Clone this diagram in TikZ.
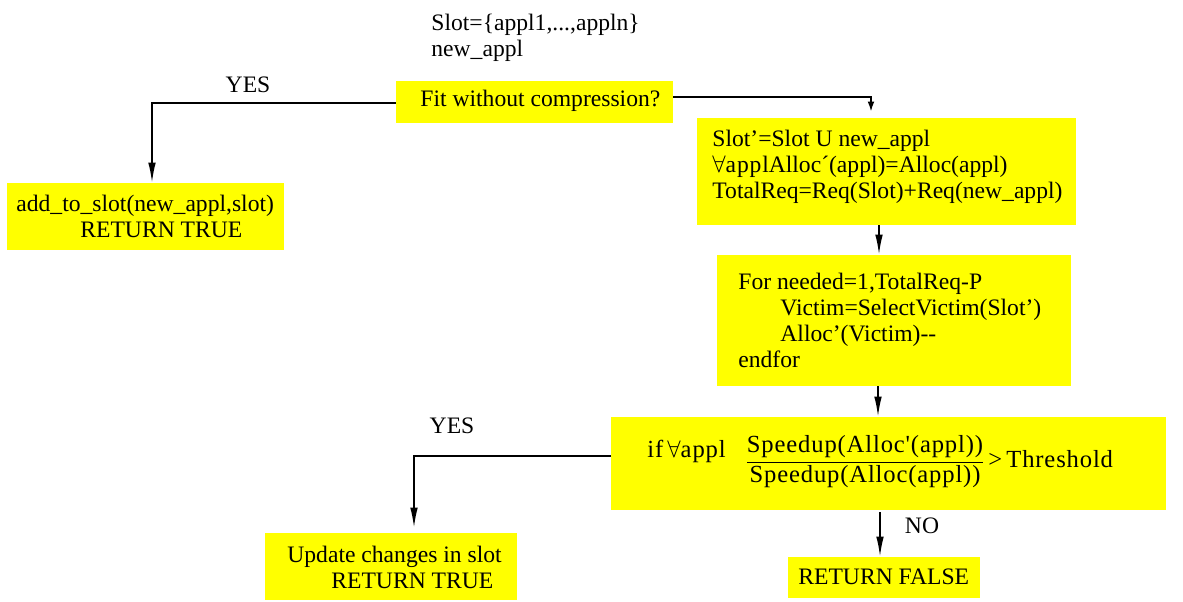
\documentclass[tikz,border=0pt]{standalone}
\usepackage{fontspec}
\setmainfont{Liberation Serif}
\newfontfamily\eqfont[Ligatures=TeXOff,LetterSpace=3.5]{Liberation Serif}
\usetikzlibrary{arrows.meta,calc,fit}
\definecolor{boxyellow}{RGB}{255,255,0}
\begin{document}
\begin{tikzpicture}[x=0.5pt,y=-0.5pt,
  box/.style={fill=boxyellow, inner sep=0pt},
  txt/.style={inner sep=0pt, align=left, anchor=west, font=\fontsize{11.8}{13}\selectfont},
  wtxt/.style={inner sep=0pt, font=\fontsize{12.3}{14}\selectfont\eqfont},
  arr/.style={-{Latex[length=10pt,width=3.8pt]}, line width=0.8pt},
  shortarr/.style={-{Latex[length=5pt,width=3.4pt]}, line width=0.8pt},
  lbl/.style={inner sep=0pt, font=\fontsize{11.8}{13}\selectfont},
]
\useasboundingbox (0,0) rectangle (1183,601);

% boxes
\node[box, fit={(396,81)(673,123)}]   (fitq)  {};
\node[box, fit={(697,118)(1076,225)}] (slotp) {};
\node[box, fit={(7,183)(284,250)}]    (add)   {};
\node[box, fit={(717,255)(1071,386)}] (loop)  {};
\node[box, fit={(611,417)(1166,510)}] (cond)  {};
\node[box, fit={(265,533)(517,600)}]  (upd)   {};
\node[box, fit={(788,557)(980,598)}]  (rfalse){};

% texts
\node[txt] (input) at (431,38) {Slot=\{appl1,...,appln\}\\new\_appl};
\node[txt] at (420,101) {Fit without compression?};
\node[txt] at (712,167) {Slot’=Slot U new\_appl\\
  {\eqfont\fontsize{11.8}{13}\selectfont$\forall$appl}Alloc´(appl)=Alloc(appl)\\
  TotalReq=Req(Slot)+Req(new\_appl)};
\node[txt] at (16,216) {add\_to\_slot(new\_appl,slot)\\\hspace*{32pt}RETURN TRUE};
\node[txt] at (738,320) {For needed=1,TotalReq-P\\
  \hspace*{21pt}Victim=SelectVictim(Slot’)\\
  \hspace*{21pt}Alloc’(Victim)-{}-\\
  endfor};
\node[wtxt, anchor=west] at (647,451) {if\,$\forall$appl};
\node[wtxt] (frac) at (865,462) {\renewcommand\arraystretch{1.05}%
  \begin{tabular}{@{}c@{}}Speedup(Alloc'(appl))\\\hline Speedup(Alloc(appl))\end{tabular}};
\node[wtxt, anchor=west] at (988,459) {>\,Threshold};
\node[txt] at (287,567) {Update changes in slot\\\hspace*{22pt}RETURN TRUE};
\node[txt] at (798,577) {RETURN FALSE};

% branch labels
\node[lbl] at (248,85) {YES};
\node[lbl] at (452,426) {YES};
\node[lbl] at (922,526) {NO};

% columns of the vertical connectors
\coordinate (c1) at (879,0);
\coordinate (c2) at (878,0);
\coordinate (c3) at (880,0);

% connectors
\draw[arr] ($(fitq.west)+(0,1)$) -| ($(add.north)+(6.5,0)$);
\draw[shortarr] ($(fitq.east)+(0,-5)$) -| ($(slotp.north)+(-15.5,-6)$);
\draw[arr] (slotp.south -| c1) -- (loop.north -| c1);
\draw[arr] (loop.south -| c2) -- (cond.north -| c2);
\draw[arr] ($(cond.west)+(0,-7.5)$) -| ($(upd.north)+(23,-5)$);
\draw[arr] ($(cond.south -| c3)+(0,2)$) -- (rfalse.north -| c3);
\end{tikzpicture}
\end{document}
